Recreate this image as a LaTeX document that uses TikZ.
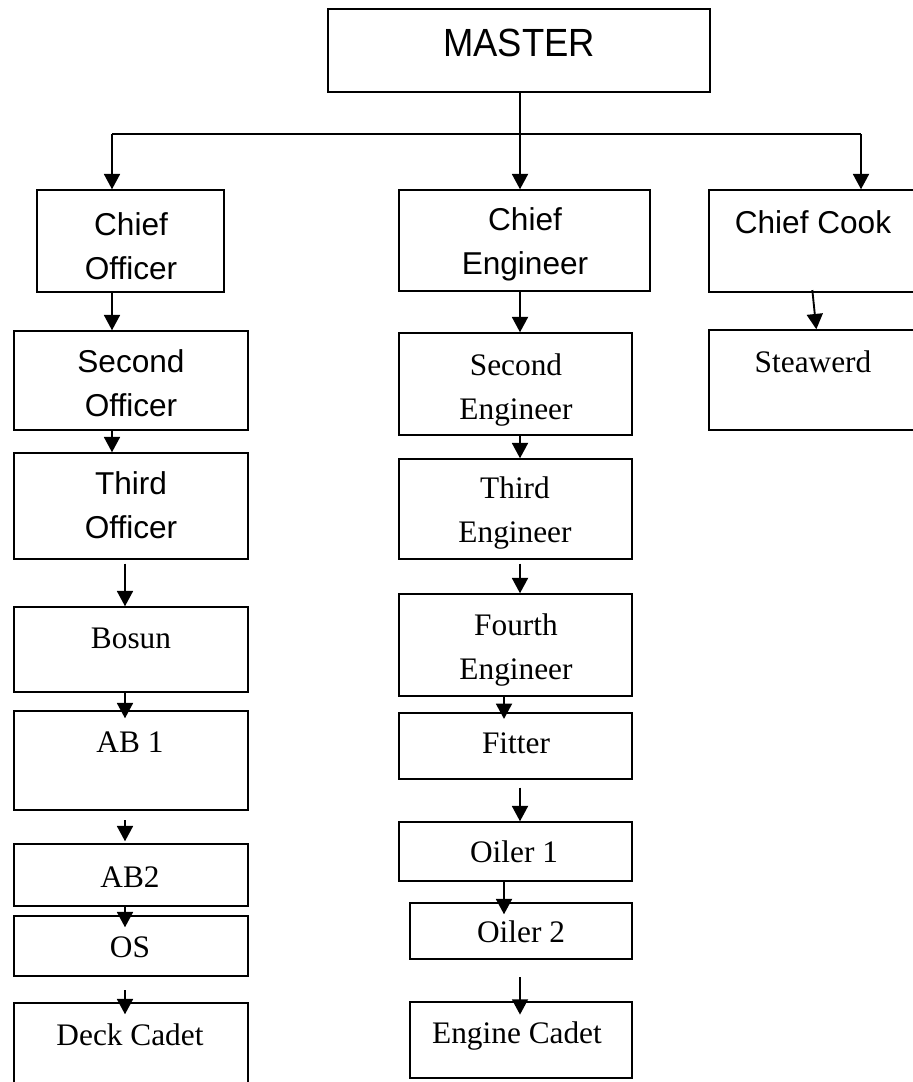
\documentclass[tikz,border=0pt]{standalone}
\usepackage{fontspec}
\setmainfont{Liberation Serif}
\newfontfamily\arial{Liberation Sans}
\usetikzlibrary{arrows.meta,fit}
\begin{document}
\begin{tikzpicture}[x=0.75pt,y=-0.75pt,
  box/.style={draw,line width=1.1pt,inner sep=0pt},
  stxt/.style={font={\arial\fontsize{23.7}{33}\selectfont},align=center,inner sep=0pt},
  rtxt/.style={font={\fontsize{23.5}{33.5}\selectfont},align=center,inner sep=0pt},
  arr/.style={draw,line width=1.4pt,-{Triangle[length=11.5pt,width=12pt]}}]
\useasboundingbox (0,0) rectangle (913,1082);
\clip (0,0) rectangle (913,1082);
% column coordinates
\coordinate (cL) at (112,0);
\coordinate (cL2) at (125,0);
\coordinate (cM) at (520,0);
\coordinate (cM2) at (504,0);
\coordinate (cR) at (861,0);
% boxes
\node[box,fit={(328,9)(710,92)}] (master) {};
\node[box,fit={(37,190)(224,292)}] (chiefoff) {};
\node[box,fit={(14,331)(248,430)}] (secoff) {};
\node[box,fit={(14,453)(248,559)}] (thirdoff) {};
\node[box,fit={(14,607)(248,692)}] (bosun) {};
\node[box,fit={(14,711)(248,810)}] (ab1) {};
\node[box,fit={(14,844)(248,906)}] (ab2) {};
\node[box,fit={(14,916)(248,976)}] (os) {};
\node[box,fit={(14,1003)(248,1110)}] (deck) {};
\node[box,fit={(399,190)(650,291)}] (chiefeng) {};
\node[box,fit={(399,333)(632,435)}] (seceng) {};
\node[box,fit={(399,459)(632,559)}] (thirdeng) {};
\node[box,fit={(399,594)(632,696)}] (fourtheng) {};
\node[box,fit={(399,713)(632,779)}] (fitter) {};
\node[box,fit={(399,822)(632,881)}] (oiler1) {};
\node[box,fit={(410,903)(632,959)}] (oiler2) {};
\node[box,fit={(410,1002)(632,1078)}] (engcadet) {};
\node[box,fit={(709,190)(930,292)}] (chiefcook) {};
\node[box,fit={(709,330)(930,430)}] (steward) {};
% texts
\node[stxt,font={\arial\fontsize{27.3}{32}\selectfont}] (tmaster) at (519,43) {\scalebox{1}[1.08]{MASTER}};
\node[stxt] (tchiefoff) at (131,246) {Chief\\Officer};
\node[stxt] (tsecoff) at (131,383) {Second\\Officer};
\node[stxt] (tthirdoff) at (131,505) {Third\\Officer};
\node[rtxt] (tbosun) at (131,638) {Bosun};
\node[rtxt] (tab1) at (130,742) {AB 1};
\node[rtxt] (tab2) at (130,877) {AB2};
\node[rtxt] (tos) at (130,947) {OS};
\node[rtxt] (tdeck) at (130,1035) {Deck Cadet};
\node[stxt] (tchiefeng) at (525,244) {Chief\\Engineer};
\node[rtxt] (tseceng) at (516,390) {Second\\Engineer};
\node[rtxt] (tthirdeng) at (515,513) {Third\\Engineer};
\node[rtxt] (tfourtheng) at (516,650) {Fourth\\Engineer};
\node[rtxt] (tfitter) at (516,743) {Fitter};
\node[rtxt] (toiler1) at (514,852) {Oiler 1};
\node[rtxt] (toiler2) at (521,932) {Oiler 2};
\node[rtxt] (tengcadet) at (517,1036) {Engine Cadet};
\node[stxt] (tchiefcook) at (813,222) {Chief Cook};
\node[rtxt] (tsteward) at (813,362) {Steawerd};
% connectors
\coordinate (bus) at (master.south -| cM);
\coordinate (busM) at (520,134);
\draw[line width=1.2pt] (bus) -- (busM);
\draw[line width=1.6pt] (busM -| cL) -- (busM -| cR);
\draw[arr] (busM -| cL) -- (chiefoff.north -| cL);
\draw[arr] (busM) -- (chiefeng.north -| cM);
\draw[arr] (busM -| cR) -- (chiefcook.north -| cR);
% left column
\draw[arr] (chiefoff.south -| cL) -- (secoff.north -| cL);
\draw[arr] (secoff.south -| cL) -- (thirdoff.north -| cL);
\draw[arr] ([yshift=-3pt]thirdoff.south -| cL2) -- (bosun.north -| cL2);
\draw[arr] (bosun.south -| cL2) -- ([yshift=-6pt]ab1.north -| cL2);
\draw[arr] ([yshift=-7pt]ab1.south -| cL2) -- ([yshift=1.5pt]ab2.north -| cL2);
\draw[arr] (ab2.south -| cL2) -- ([yshift=-9pt]os.north -| cL2);
\draw[arr] ([yshift=-10pt]os.south -| cL2) -- ([yshift=-9pt]deck.north -| cL2);
% middle column
\draw[arr] (chiefeng.south -| cM) -- (seceng.north -| cM);
\draw[arr] (seceng.south -| cM) -- (thirdeng.north -| cM);
\draw[arr] ([yshift=-3pt]thirdeng.south -| cM) -- (fourtheng.north -| cM);
\draw[arr] (fourtheng.south -| cM2) -- ([yshift=-5pt]fitter.north -| cM2);
\draw[arr] ([yshift=-6pt]fitter.south -| cM) -- (oiler1.north -| cM);
\draw[arr] (oiler1.south -| cM2) -- ([yshift=-9pt]oiler2.north -| cM2);
\draw[arr] ([yshift=-13pt]oiler2.south -| cM) -- ([yshift=-10pt]engcadet.north -| cM);
% right column
\draw[arr] ([xshift=-0.5pt,yshift=2pt]chiefcook.south -| 813,0) -- ([xshift=2.5pt]steward.north -| 813,0);
\end{tikzpicture}
\end{document}
